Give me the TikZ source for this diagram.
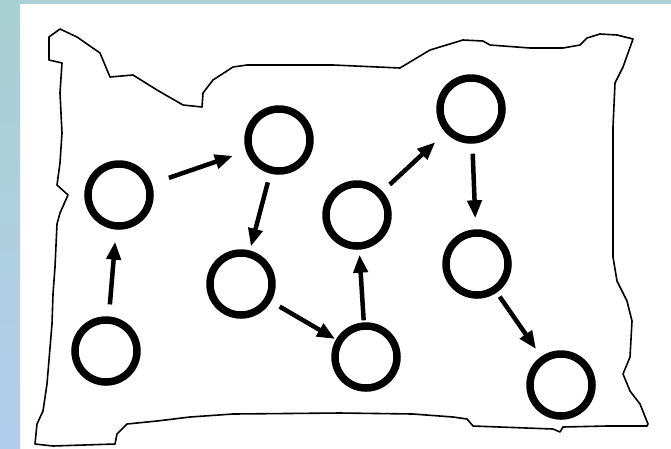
\documentclass[tikz,border=0pt]{standalone}
\usepackage{tikz}
\usetikzlibrary{arrows.meta, shapes}

\definecolor{bordoalto}{RGB}{169,208,210}
\definecolor{bordobasso}{RGB}{178,205,236}

\begin{document}
\begin{tikzpicture}[x=1pt, y=-1pt, >={Triangle[length=18pt, width=14pt]}]
    % Stili
    \tikzstyle{vertex} = [draw, circle, line width=7.5pt, minimum size=62pt, inner sep=0pt]
    \tikzstyle{edge} = [->, line width=4.5pt]
    \tikzstyle{contorno} = [line width=1.6pt, line join=round]

    % Sfondo
    \useasboundingbox (0,0) rectangle (671,448);
    \fill[white] (0,0) rectangle (671,448);
    \shade[top color=bordoalto, bottom color=bordobasso] (0,0) rectangle (20,448);
    \fill[bordoalto] (20,0) rectangle (671,4);

    % Contorno disegnato a mano
    \draw[contorno] (49,60) -- (49,37) -- (60,29) -- (77,37) -- (100,53) -- (110,77)
        -- (133,75) -- (157,90) -- (183,105) -- (202,107) -- (203,93) -- (213,80)
        -- (233,67) -- (247,65) -- (333,65) -- (400,68) -- (410,62) -- (430,50)
        -- (463,40) -- (483,41) -- (490,45) -- (530,48) -- (563,48) -- (580,45)
        -- (587,38) -- (600,34) -- (617,35) -- (633,39) -- (623,67) -- (615,83)
        -- (613,127) -- (613,257) -- (617,281) -- (627,301) -- (632,321) -- (630,357)
        -- (623,374) -- (630,391) -- (640,404) -- (648,424) -- (647,426) -- (607,426)
        -- (563,427) -- (560,432) -- (553,429) -- (473,426) -- (467,419) -- (453,417)
        -- (413,414) -- (340,413) -- (233,414) -- (190,417) -- (157,421) -- (127,424)
        -- (117,434) -- (115,444) -- (53,446) -- (35,444) -- (37,424) -- (43,411)
        -- (47,384) -- (52,324) -- (53,294) -- (55,267) -- (57,224) -- (60,213)
        -- (68,195) -- (57,185) -- (60,163) -- (62,133) -- (60,93) -- (62,63) -- cycle;

    % Nodi
    \node [vertex] (a) at (106,351) {};
    \node [vertex] (b) at (119,195) {};
    \node [vertex] (c) at (279,140) {};
    \node [vertex] (d) at (241,284) {};
    \node [vertex] (e) at (366,357) {};
    \node [vertex] (f) at (357,215) {};
    \node [vertex] (g) at (471,109) {};
    \node [vertex] (h) at (477,264) {};
    \node [vertex] (i) at (561,385) {};

    % Collegamenti
    \draw [edge, shorten <=12pt, shorten >=12pt] (a) -- (b);
    \draw [edge, shorten <=18pt, shorten >=14pt] (b) -- (c);
    \draw [edge, shorten <=9pt, shorten >=4pt] (c) -- (d);
    \draw [edge, shorten <=10pt, shorten >=1pt] (d) -- (e);
    \draw [edge, shorten <=2pt, shorten >=5pt] (e) -- (f);
    \draw [edge, shorten <=10pt, shorten >=14pt] (f) -- (g);
    \draw [edge, shorten <=10pt, shorten >=11pt] (g) -- (h);
    \draw [edge, shorten <=5pt, shorten >=9pt] (h) -- (i);

\end{tikzpicture}
\end{document}
